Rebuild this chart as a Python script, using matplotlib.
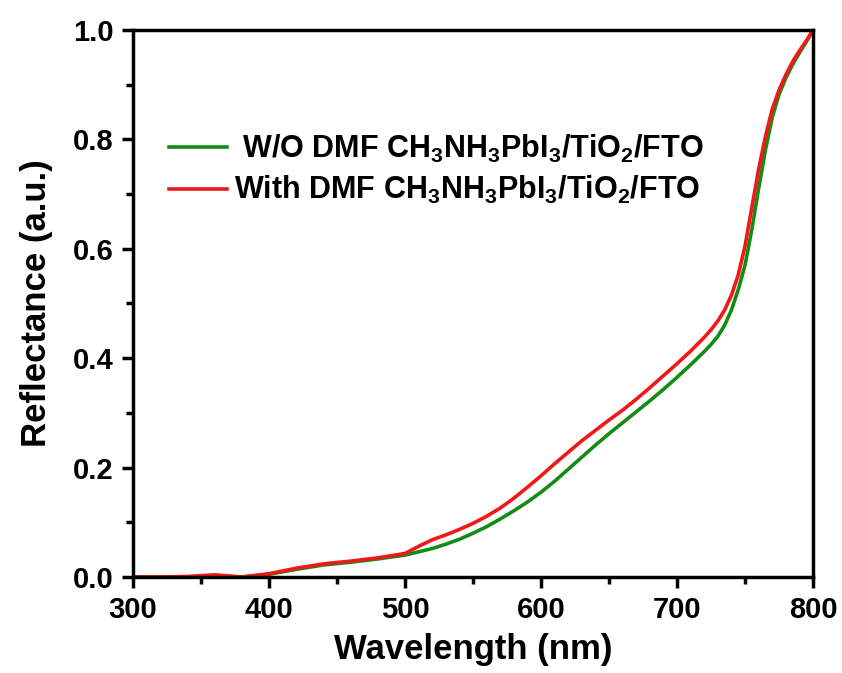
import matplotlib
matplotlib.use('Agg')
import matplotlib.pyplot as plt
from matplotlib.ticker import MultipleLocator

plt.rcParams['font.family'] = 'Liberation Sans'
plt.rcParams['font.weight'] = 'bold'
plt.rcParams['mathtext.fontset'] = 'custom'
plt.rcParams['mathtext.rm'] = 'Liberation Sans:bold'
plt.rcParams['mathtext.bf'] = 'Liberation Sans:bold'
plt.rcParams['mathtext.default'] = 'rm'

# wavelength (nm)
wl = [300, 320, 340, 360, 380, 400, 420, 440, 460, 480,
      500, 510, 520, 530, 540, 550, 560, 570, 580, 590,
      600, 610, 620, 630, 640, 650, 660, 670, 680, 690,
      700, 710, 720, 725, 730, 735, 740, 745, 750, 755,
      760, 765, 770, 775, 780, 785, 790, 795, 800]

# reflectance without DMF
refl_wo = [0.0, 0.0, 0.0, 0.002, 0.0, 0.005, 0.014, 0.022, 0.027, 0.033,
           0.040, 0.046, 0.052, 0.060, 0.069, 0.080, 0.092, 0.106, 0.121, 0.137,
           0.155, 0.175, 0.197, 0.219, 0.241, 0.262, 0.282, 0.302, 0.322, 0.343,
           0.365, 0.388, 0.412, 0.425, 0.440, 0.460, 0.488, 0.525, 0.570, 0.635,
           0.710, 0.780, 0.840, 0.882, 0.912, 0.937, 0.958, 0.978, 1.0]

# reflectance with DMF
refl_with = [0.0, 0.0, 0.001, 0.004, 0.0, 0.006, 0.016, 0.024, 0.029, 0.035,
             0.043, 0.056, 0.068, 0.077, 0.087, 0.098, 0.111, 0.126, 0.144, 0.164,
             0.185, 0.207, 0.228, 0.249, 0.268, 0.287, 0.305, 0.325, 0.346, 0.368,
             0.390, 0.413, 0.438, 0.452, 0.468, 0.488, 0.515, 0.552, 0.605, 0.675,
             0.745, 0.805, 0.855, 0.890, 0.918, 0.942, 0.962, 0.980, 1.0]

label_wo = r'W/O DMF CH$_3$NH$_3$PbI$_3$/TiO$_2$/FTO'
label_with = r'With DMF CH$_3$NH$_3$PbI$_3$/TiO$_2$/FTO'

fig = plt.figure(figsize=(8.42, 6.73), dpi=100)
ax = fig.add_axes([133 / 842, 1 - 577 / 673, 680 / 842, 547 / 673])

ax.plot(wl, refl_wo, color='#148c14', lw=2.6, label=' ' + label_wo)
ax.plot(wl, refl_with, color='#f01818', lw=2.6, label=label_with)

ax.set_xlim(300, 800)
ax.set_ylim(0, 1.0)
ax.xaxis.set_major_locator(MultipleLocator(100))
ax.xaxis.set_minor_locator(MultipleLocator(50))
ax.yaxis.set_major_locator(MultipleLocator(0.2))
ax.yaxis.set_minor_locator(MultipleLocator(0.1))
ax.tick_params(which='major', direction='out', length=8, width=2.5,
               labelsize=21, pad=6)
ax.tick_params(which='minor', direction='out', length=5, width=2.5)
for s in ax.spines.values():
    s.set_linewidth(2.5)

ax.set_xlabel('Wavelength (nm)', fontsize=25, fontweight='bold', labelpad=6)
ax.set_ylabel('Reflectance (a.u.)', fontsize=25, fontweight='bold', labelpad=14)

ax.legend(loc='upper left', bbox_to_anchor=(0.012, 0.862), frameon=False,
          fontsize=22, handlelength=1.9, handletextpad=0.25, labelspacing=0.3)

fig.savefig('out.png', dpi=100)
